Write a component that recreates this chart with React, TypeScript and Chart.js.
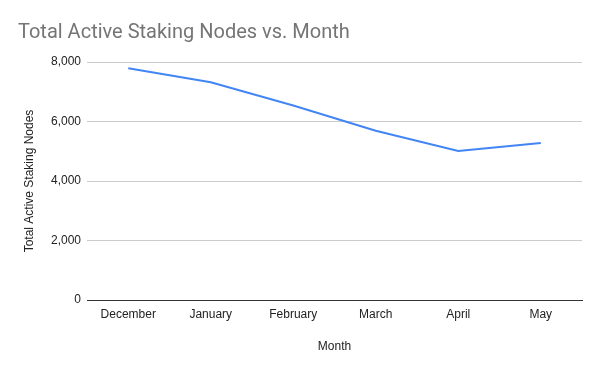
import React, { useEffect, useRef } from "react";
import { Chart, registerables } from "chart.js";

Chart.register(...registerables);

const months = ["December", "January", "February", "March", "April", "May"];
const activeNodes = [7790, 7320, 6540, 5690, 5010, 5280];
const yTicks = [0, 2000, 4000, 6000, 8000];

export default function App() {
  const ref = useRef<HTMLCanvasElement | null>(null);

  useEffect(() => {
    document.body.style.margin = "0";
    const ctx = ref.current!.getContext("2d")!;
    const chart = new Chart(ctx, {
      type: "line",
      data: {
        labels: months,
        datasets: [
          {
            label: "Total Active Staking Nodes",
            data: activeNodes,
            borderColor: "#4285F4",
            backgroundColor: "#4285F4",
            borderWidth: 2,
            pointRadius: 0,
            tension: 0,
          },
        ],
      },
      options: {
        animation: false,
        responsive: false,
        maintainAspectRatio: false,
        layout: { padding: { left: 18, right: 18, top: 0, bottom: 0 } },
        plugins: {
          legend: { display: false },
          tooltip: { enabled: false },
          title: {
            display: true,
            text: "Total Active Staking Nodes vs. Month",
            align: "start",
            color: "#757575",
            font: { family: "Roboto", size: 20, weight: "normal" },
            padding: { top: 21, bottom: 17 },
          },
        },
        scales: {
          x: {
            offset: true,
            grid: { display: false, drawTicks: false },
            border: { display: true, color: "#333333", width: 1 },
            ticks: {
              color: "#222222",
              font: { family: "Liberation Sans", size: 12 },
              padding: 7,
              maxRotation: 0,
            },
            title: {
              display: true,
              text: "Month",
              color: "#222222",
              font: { family: "Liberation Sans", size: 12 },
              padding: { top: 4, bottom: 17 },
            },
            afterFit: (scale: any) => {
              scale.height = 71;
            },
          },
          y: {
            min: 0,
            max: 8000,
            afterBuildTicks: (scale: any) => {
              scale.ticks = yTicks.map((v) => ({ value: v }));
            },
            grid: {
              color: (c: any) => (c.tick && c.tick.value === 0 ? "#333333" : "#cccccc"),
              drawTicks: false,
            },
            border: { display: false },
            ticks: {
              color: "#222222",
              font: { family: "Liberation Sans", size: 12 },
              padding: 6,
              callback: (v: any) => Number(v).toLocaleString("en-US"),
            },
            title: {
              display: true,
              text: "Total Active Staking Nodes",
              color: "#222222",
              font: { family: "Liberation Sans", size: 12 },
              padding: { bottom: 4 },
            },
            afterFit: (scale: any) => {
              scale.width = 69;
            },
          },
        },
      },
    });
    return () => chart.destroy();
  }, []);

  return (
    <div style={{ width: 600, height: 371 }}>
      <canvas ref={ref} width={600} height={371} />
    </div>
  );
}
